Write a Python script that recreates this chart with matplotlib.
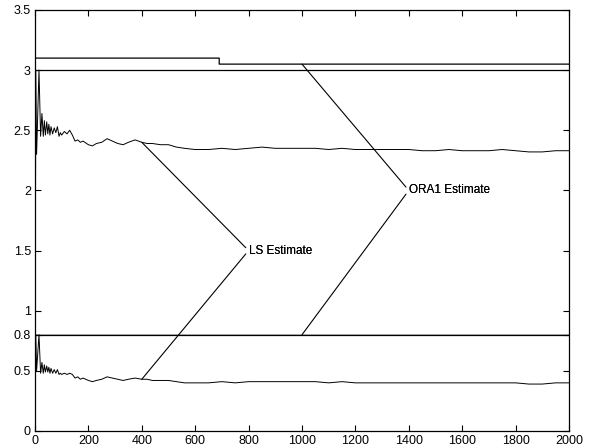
import matplotlib
matplotlib.use("Agg")
import matplotlib.pyplot as plt

plt.rcParams['font.family'] = ['Liberation Sans', 'DejaVu Sans']

# true parameter values
true_hi = 3.0
true_lo = 0.8

# LS estimates (sample index, value)
ls_x = [0, 3, 6, 15, 21, 26, 31, 35, 39, 44, 48, 52, 56, 60, 66, 72, 78, 84, 90, 95,
        100, 110, 120, 130, 140, 150, 160, 170, 180, 200,
        215, 230, 250, 270, 290, 310, 330, 350, 375, 400, 420, 440, 470, 500, 530,
        560, 600, 650, 700, 750, 800, 850, 900, 950, 1000, 1050, 1100, 1150, 1200,
        1250, 1300, 1350, 1400, 1450, 1500, 1550, 1600, 1650, 1700, 1750, 1800,
        1850, 1900, 1950, 2000]
ls_hi = [0, 3.0, 2.3, 3.0, 2.45, 2.64, 2.45, 2.58, 2.46, 2.57, 2.47, 2.55, 2.46, 2.53,
         2.47, 2.52, 2.48, 2.53, 2.45, 2.48,
         2.46, 2.49, 2.47, 2.50, 2.46, 2.41, 2.42, 2.40, 2.41, 2.38, 2.37, 2.39, 2.40,
         2.43, 2.41, 2.39, 2.38, 2.40, 2.42, 2.40, 2.39, 2.39, 2.38, 2.38, 2.36, 2.35,
         2.34, 2.34, 2.35, 2.34, 2.35, 2.36, 2.35, 2.35, 2.35, 2.35, 2.34, 2.35, 2.34,
         2.34, 2.34, 2.34, 2.34, 2.33, 2.33, 2.34, 2.33, 2.33, 2.33, 2.34, 2.33, 2.32,
         2.32, 2.33, 2.33]
ls_lo = [0, 0.8, 0.5, 0.8, 0.48, 0.57, 0.48, 0.55, 0.49, 0.54, 0.49, 0.53, 0.48, 0.52,
         0.48, 0.51, 0.48, 0.51, 0.47, 0.48,
         0.47, 0.48, 0.47, 0.48, 0.47, 0.44, 0.45, 0.43, 0.44, 0.42, 0.41, 0.42, 0.43,
         0.45, 0.44, 0.43, 0.42, 0.43, 0.44, 0.43, 0.43, 0.42, 0.42, 0.42, 0.41, 0.40,
         0.40, 0.40, 0.41, 0.40, 0.41, 0.41, 0.41, 0.41, 0.41, 0.41, 0.40, 0.41, 0.40,
         0.40, 0.40, 0.40, 0.40, 0.40, 0.40, 0.40, 0.40, 0.40, 0.40, 0.40, 0.40, 0.39,
         0.39, 0.40, 0.40]

# ORA1 estimates (piecewise constant)
ora_x = [0, 1, 690, 690, 2000]
ora_hi = [0, 3.1, 3.1, 3.05, 3.05]
ora_lo = [0, 0.795, 0.795, 0.795, 0.795]

fig = plt.figure(figsize=(5.89, 4.48), dpi=100)
ax = fig.add_axes([0.0594, 0.038, 0.9066, 0.9397])

ax.plot(ls_x, ls_hi, color='black', lw=0.7)
ax.plot(ls_x, ls_lo, color='black', lw=0.7)
ax.plot(ora_x, ora_hi, color='black', lw=0.9)
ax.plot(ora_x, ora_lo, color='black', lw=0.9)
ax.axhline(true_hi, color='black', lw=0.9)
ax.axhline(true_lo, color='black', lw=0.9)

line = dict(arrowstyle='-', color='black', lw=0.8, shrinkA=0, shrinkB=0, relpos=(0, 0.5))
for y in (ls_hi[ls_x.index(400)], ls_lo[ls_x.index(400)]):
    ax.annotate('LS Estimate', xy=(400, y), xytext=(800, 1.5), fontsize=8.5,
                ha='left', va='center', arrowprops=line)
for y in (ora_hi[-1], true_lo):
    ax.annotate('ORA1 Estimate', xy=(1000, y), xytext=(1400, 2.0), fontsize=8.5,
                ha='left', va='center', arrowprops=line)

ax.set_xlim(0, 2000)
ax.set_ylim(0, 3.5)
ax.set_xticks(range(0, 2001, 200))
ax.set_yticks([0, 0.5, 0.8, 1, 1.5, 2, 2.5, 3, 3.5])
ax.set_yticklabels(['0', '0.5', '0.8', '1', '1.5', '2', '2.5', '3', '3.5'])
ax.tick_params(direction='in', top=True, right=True, length=4, width=0.8,
               labelsize=9, pad=3)
for s in ax.spines.values():
    s.set_linewidth(0.9)

fig.savefig('out.png', dpi=100)
